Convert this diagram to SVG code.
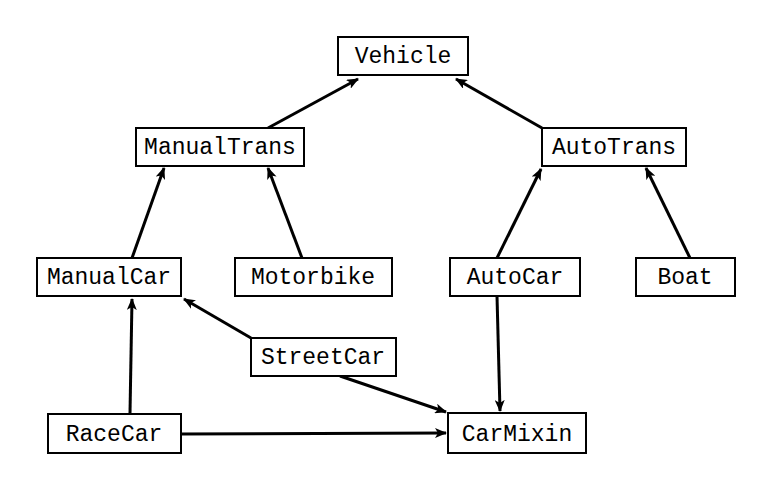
<svg xmlns="http://www.w3.org/2000/svg" width="772" height="489" viewBox="0 0 772 489">
<style>
.box{fill:#fff;stroke:#000;stroke-width:2}
.lbl{font-family:"Liberation Mono","Courier New",monospace;font-size:23px;fill:#000;text-anchor:middle}
.edge{stroke:#000;stroke-width:3;fill:none;marker-end:url(#arr)}
</style>
<defs>
<marker id="arr" markerUnits="userSpaceOnUse" markerWidth="12" markerHeight="10" refX="11" refY="5" orient="auto">
<path d="M0,0 L12,5 L0,10 L3,5 z" fill="#000"/>
</marker>
</defs>
<rect width="772" height="489" fill="#fff"/>
<g id="connectors">
<line class="edge" x1="268" y1="128" x2="358" y2="79"/>
<line class="edge" x1="542" y1="128" x2="456" y2="79"/>
<line class="edge" x1="132" y1="258" x2="164" y2="168"/>
<line class="edge" x1="302" y1="258" x2="268" y2="168"/>
<line class="edge" x1="497" y1="258" x2="541" y2="169"/>
<line class="edge" x1="690" y1="258" x2="646" y2="168"/>
<line class="edge" x1="251" y1="338" x2="184" y2="299"/>
<line class="edge" x1="130" y1="413" x2="132" y2="299"/>
<line class="edge" x1="497" y1="296" x2="500" y2="411"/>
<line class="edge" x1="340" y1="376" x2="446" y2="412"/>
<line class="edge" x1="181" y1="434" x2="446" y2="433"/>
</g>
<g id="Vehicle"><rect class="box" x="338" y="37" width="130" height="38"/><text class="lbl" x="403" y="63">Vehicle</text></g>
<g id="ManualTrans"><rect class="box" x="136" y="128" width="168" height="38"/><text class="lbl" x="220" y="154">ManualTrans</text></g>
<g id="AutoTrans"><rect class="box" x="542" y="128" width="144" height="38"/><text class="lbl" x="614" y="154">AutoTrans</text></g>
<g id="ManualCar"><rect class="box" x="37" y="258" width="144" height="38"/><text class="lbl" x="109" y="284">ManualCar</text></g>
<g id="Motorbike"><rect class="box" x="235" y="258" width="157" height="38"/><text class="lbl" x="313" y="284">Motorbike</text></g>
<g id="AutoCar"><rect class="box" x="450" y="258" width="130" height="38"/><text class="lbl" x="515" y="284">AutoCar</text></g>
<g id="Boat"><rect class="box" x="636" y="258" width="99" height="38"/><text class="lbl" x="685" y="284">Boat</text></g>
<g id="StreetCar"><rect class="box" x="251" y="338" width="145" height="38"/><text class="lbl" x="323" y="364">StreetCar</text></g>
<g id="RaceCar"><rect class="box" x="48" y="414" width="133" height="39"/><text class="lbl" x="114" y="441">RaceCar</text></g>
<g id="CarMixin"><rect class="box" x="448" y="413" width="138" height="40"/><text class="lbl" x="517" y="441">CarMixin</text></g>
</svg>
